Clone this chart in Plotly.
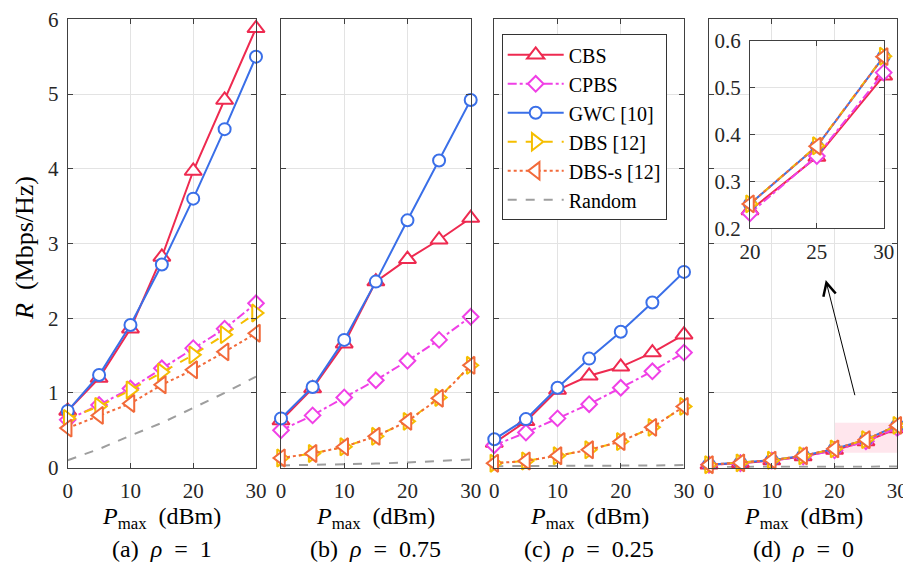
import plotly.graph_objects as go

P = [0, 5, 10, 15, 20, 25, 30]

# Panel (a) rho = 1
cbs_a = [0.76, 1.20, 1.86, 2.82, 3.97, 4.92, 5.88]
cpbs_a = [0.64, 0.84, 1.06, 1.33, 1.60, 1.86, 2.20]
gwc_a = [0.76, 1.24, 1.91, 2.72, 3.60, 4.53, 5.50]
dbs_a = [0.66, 0.82, 1.04, 1.28, 1.51, 1.78, 2.07]
dbss_a = [0.53, 0.70, 0.86, 1.11, 1.31, 1.55, 1.80]
rand_a = [0.10, 0.25, 0.43, 0.60, 0.80, 1.00, 1.22]

# Panel (b) rho = 0.75
cbs_b = [0.63, 1.06, 1.66, 2.49, 2.79, 3.05, 3.34]
cpbs_b = [0.50, 0.70, 0.94, 1.17, 1.43, 1.71, 2.02]
gwc_b = [0.66, 1.08, 1.71, 2.49, 3.31, 4.11, 4.92]
dbs_b = [0.13, 0.19, 0.28, 0.42, 0.62, 0.94, 1.37]
dbss_b = [0.13, 0.19, 0.28, 0.42, 0.62, 0.93, 1.37]
rand_b = [0.03, 0.035, 0.045, 0.055, 0.07, 0.09, 0.11]

# Panel (c) rho = 0.25
cbs_c = [0.33, 0.62, 1.04, 1.23, 1.35, 1.54, 1.78]
cpbs_c = [0.30, 0.47, 0.66, 0.85, 1.07, 1.29, 1.54]
gwc_c = [0.38, 0.65, 1.07, 1.46, 1.82, 2.21, 2.62]
dbs_c = [0.06, 0.09, 0.16, 0.24, 0.35, 0.54, 0.82]
dbss_c = [0.06, 0.09, 0.16, 0.24, 0.35, 0.54, 0.82]
rand_c = [0.02, 0.02, 0.025, 0.025, 0.03, 0.03, 0.035]

# Panel (d) rho = 0
cbs_d = [0.04, 0.06, 0.095, 0.15, 0.238, 0.352, 0.525]
cpbs_d = [0.04, 0.06, 0.095, 0.15, 0.232, 0.354, 0.532]
gwc_d = [0.04, 0.065, 0.10, 0.16, 0.252, 0.375, 0.566]
dbs_d = [0.04, 0.065, 0.10, 0.16, 0.252, 0.376, 0.567]
dbss_d = [0.04, 0.065, 0.10, 0.16, 0.252, 0.375, 0.566]
rand_d = [0.01, 0.01, 0.01, 0.012, 0.012, 0.014, 0.015]

names = ["CBS", "CPBS", "GWC [10]", "DBS [12]", "DBS-s [12]", "Random"]
colors = ["#EE2A50", "#F040E6", "#3A6FE8", "#F5BE00", "#F26A3A", "#9E9E9E"]
dashes = ["solid", "dashdot", "solid", "dash", "dot", "dash"]
symbols = ["triangle-up", "diamond", "circle", "triangle-right", "triangle-left", None]
msizes = [15, 12, 12, 15, 15, 0]

panels = [
    [cbs_a, cpbs_a, gwc_a, dbs_a, dbss_a, rand_a],
    [cbs_b, cpbs_b, gwc_b, dbs_b, dbss_b, rand_b],
    [cbs_c, cpbs_c, gwc_c, dbs_c, dbss_c, rand_c],
    [cbs_d, cpbs_d, gwc_d, dbs_d, dbss_d, rand_d],
]
EN = "\u2002"
captions = ["(a)" + EN + "<i>ρ</i>" + EN + "=" + EN + "1",
            "(b)" + EN + "<i>ρ</i>" + EN + "=" + EN + "0.75",
            "(c)" + EN + "<i>ρ</i>" + EN + "=" + EN + "0.25",
            "(d)" + EN + "<i>ρ</i>" + EN + "=" + EN + "0"]
xlabel = "<i>P</i><sub>max</sub>" + EN + "(dBm)"
ylabel = "<i>R</i>" + EN + "(Mbps/Hz)"

FONT = "Liberation Serif"
FS_TICK = 21
FS_LAB = 24
FS_LEG = 20
W, H = 911, 565
OFF = 8  # page body margin offset

fig = go.Figure()

def add_series(data, xa, ya, legend, xs=P):
    order = [5, 0, 1, 2, 3, 4]
    for i in order:
        tr = dict(x=xs, y=data[i], name=names[i], xaxis=xa, yaxis=ya,
                  line=dict(color=colors[i], width=2, dash=dashes[i]),
                  showlegend=legend, cliponaxis=False, legendrank=i + 1)
        if symbols[i]:
            tr["mode"] = "lines+markers"
            tr["marker"] = dict(symbol=symbols[i], size=msizes[i], color="white",
                                line=dict(color=colors[i], width=2))
        else:
            tr["mode"] = "lines"
        fig.add_trace(go.Scatter(**tr))

def fx(p):
    return (p - OFF) / W

def fy(p):
    return 1 - (p - OFF) / H

px_left = [67.7, 281.0, 494.3, 709.0]
px_right = [256.0, 470.7, 684.0, 897.3]
top_px, bot_px = 19.3, 467.7
ydom = [fy(bot_px), fy(top_px)]

axstyle = dict(showline=True, linecolor="#404040", linewidth=1, mirror="ticks",
               ticks="inside", ticklen=5, tickcolor="#404040", automargin=False,
               showgrid=True, gridcolor="#E3E3E3", gridwidth=1, zeroline=False,
               ticklabelstandoff=4, ticklabeloverflow="allow",
               tickfont=dict(family=FONT, size=FS_TICK, color="#262626"))

for k in range(4):
    n = "" if k == 0 else str(k + 1)
    add_series(panels[k], "x" + n, "y" + n, legend=(k == 2))
    fig.update_layout(**{
        "xaxis" + n: dict(domain=[fx(px_left[k]), fx(px_right[k])], range=[0, 30],
                          tickvals=[0, 10, 20, 30], anchor="y" + n, **axstyle),
        "yaxis" + n: dict(domain=ydom, range=[0, 6], tickvals=[0, 1, 2, 3, 4, 5, 6],
                          showticklabels=(k == 0), anchor="x" + n, **axstyle),
    })
    cx = fx((px_left[k] + px_right[k]) / 2)
    fig.add_annotation(x=cx, y=fy(518), xref="paper", yref="paper", showarrow=False,
                       xanchor="center", yanchor="middle", text=xlabel,
                       font=dict(family=FONT, size=FS_LAB, color="black"))
    fig.add_annotation(x=cx, y=fy(549), xref="paper", yref="paper", showarrow=False,
                       xanchor="center", yanchor="middle", text=captions[k],
                       font=dict(family=FONT, size=FS_LAB, color="black"))

# inset (panel d zoom)
inset_P = P[4:]
inset_data = [s[4:] for s in panels[3]]
add_series(inset_data, "x5", "y5", legend=False, xs=inset_P)
fig.update_layout(
    xaxis5=dict(domain=[fx(750), fx(883.7)], range=[20, 30], tickvals=[20, 25, 30],
                anchor="y5", **axstyle),
    yaxis5=dict(domain=[fy(228.3), fy(40.7)], range=[0.2, 0.6],
                tickvals=[0.2, 0.3, 0.4, 0.5, 0.6], anchor="x5", **axstyle),
)
fig.add_shape(type="rect", xref="x5 domain", yref="y5 domain", x0=0, x1=1, y0=0, y1=1,
              fillcolor="#FFF6F8", line=dict(width=0), layer="below")
fig.add_shape(type="rect", xref="x4", yref="y4", x0=20, x1=30, y0=0.2, y1=0.6,
              fillcolor="rgba(255,200,215,0.45)", line=dict(width=0), layer="below")

# arrow
fig.add_annotation(x=18.6, y=2.51, ax=23.3, ay=0.95, xref="x4", yref="y4",
                   axref="x4", ayref="y4", showarrow=True, arrowhead=5,
                   arrowsize=2.5, arrowwidth=1, arrowcolor="black", text="")

# y-axis title
fig.add_annotation(x=fx(24), y=fy(248), xref="paper", yref="paper", showarrow=False,
                   xanchor="center", yanchor="middle", text=ylabel, textangle=-90,
                   font=dict(family=FONT, size=26, color="black"))

fig.update_layout(
    width=W, height=H, margin=dict(l=0, r=0, t=0, b=0, pad=0, autoexpand=False),
    paper_bgcolor="white", plot_bgcolor="white",
    font=dict(family=FONT, size=FS_LEG, color="black"),
    legend=dict(x=fx(501.7), y=fy(34.3), xanchor="left", yanchor="top",
                bgcolor="white", bordercolor="#333", borderwidth=1,
                font=dict(family=FONT, size=FS_LEG, color="black"),
                itemwidth=56, tracegroupgap=0),
)

fig.write_html("out.html")
